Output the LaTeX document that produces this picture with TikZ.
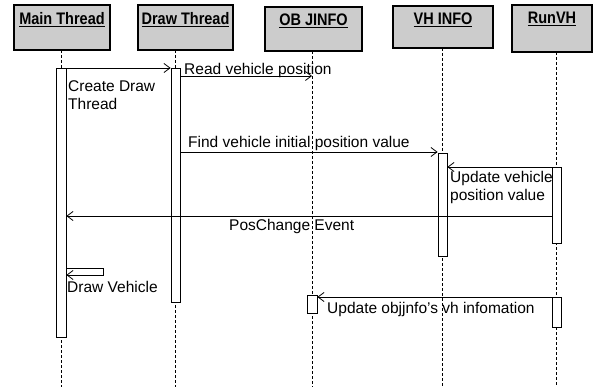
\documentclass[tikz,border=0pt]{standalone}
\usepackage{fontspec}
\setmainfont{Liberation Sans}
\usetikzlibrary{arrows.meta}

\tikzset{
  objbox/.style={draw=black, line width=1.6pt, fill=black!20},
  objname/.style={anchor=north, inner sep=0pt, yscale=1.15, font=\fontsize{14.5}{16}\selectfont\bfseries},
  lifeline/.style={line width=0.6pt, dash pattern=on 3pt off 2pt},
  actbar/.style={draw=black, line width=0.8pt, fill=white, inner sep=0pt},
  msg/.style={line width=0.8pt, -{Straight Barb[length=6pt,width=9pt,line width=0.8pt]}},
  msgtext/.style={anchor=base west, inner sep=0pt, align=left,
                  font=\fontsize{15.5}{18}\selectfont}
}

% object header: name, x1, y1, x2, y2, label
\newcommand{\objhead}[6]{%
  \draw[objbox] (#2,#3) rectangle (#4,#5);
  \node[objname] (#1) at ({(#2+#4)/2},#3+7) {\underline{#6}};
}

\begin{document}
\begin{tikzpicture}[x=1pt,y=-1pt]
  \useasboundingbox[fill=white] (0,0) rectangle (607,387);

  % object headers
  \objhead{hMain}{14}{5}{110}{50}{Main Thread}
  \objhead{hDraw}{138}{5}{233}{50}{Draw Thread}
  \objhead{hOb}{265}{7}{362}{51}{OB JINFO}
  \objhead{hVh}{393}{6}{493}{48}{VH INFO}
  \objhead{hRun}{512}{5}{592}{52}{RunVH}

  % lifelines
  \draw[lifeline] (61,50) -- (61,387);
  \draw[lifeline] (175.5,50) -- (175.5,387);
  \draw[lifeline] (312,51) -- (312,387);
  \draw[lifeline] (442.5,48) -- (442.5,387);
  \draw[lifeline] (556.5,52) -- (556.5,387);

  % activation bars
  \node[actbar, minimum width=10pt, minimum height=269pt] (aMain) at (61,202.5) {};
  \node[actbar, minimum width=9pt, minimum height=234pt] (aDraw) at (175.5,185) {};
  \node[actbar, minimum width=9pt, minimum height=103pt] (aVh) at (442.5,204.5) {};
  \node[actbar, minimum width=9pt, minimum height=76pt] (aRun1) at (556.5,205) {};
  \node[actbar, minimum width=9pt, minimum height=30pt] (aRun2) at (556.5,312) {};
  \node[actbar, minimum width=10pt, minimum height=18pt] (aOb) at (312,304) {};

  % message end points
  \coordinate (obRead) at (312,76);
  \coordinate (selfA) at (103,268);
  \coordinate (selfB) at (103,275);

  % messages
  \draw[msg] (aMain.east |- 0,68) -- (aDraw.west |- 0,68);
  \draw[msg] (aDraw.east |- 0,76) -- (obRead);
  \draw[msg] (aDraw.east |- 0,152) -- (aVh.west |- 0,152);
  \draw[msg] (aRun1.west |- 0,167) -- (aVh.east |- 0,167);
  \draw[msg] (aRun1.west |- 0,216) -- (aMain.east |- 0,216);
  \draw[msg] (aMain.east |- selfA) -- (selfA) -- (selfB) -- (aMain.east |- selfB);
  \draw[msg] (aRun2.west |- 0,297) -- (aOb.east |- 0,297);

  % message labels (two-line labels sit on the baseline of their last line)
  \node[msgtext] (tCreate) at (68,110) {Create Draw\\Thread};
  \node[msgtext] (tRead) at (184,75) {Read vehicle position};
  \node[msgtext] (tFind) at (188,148) {Find vehicle initial position value};
  \node[msgtext] (tUpd) at (450,201) {Update vehicle\\position value};
  \node[msgtext] (tPos) at (229,230) {PosChange Event};
  \node[msgtext] (tDrawV) at (67,292) {Draw Vehicle};
  \node[msgtext] (tObj) at (327,313) {Update objjnfo's vh infomation};
\end{tikzpicture}
\end{document}
